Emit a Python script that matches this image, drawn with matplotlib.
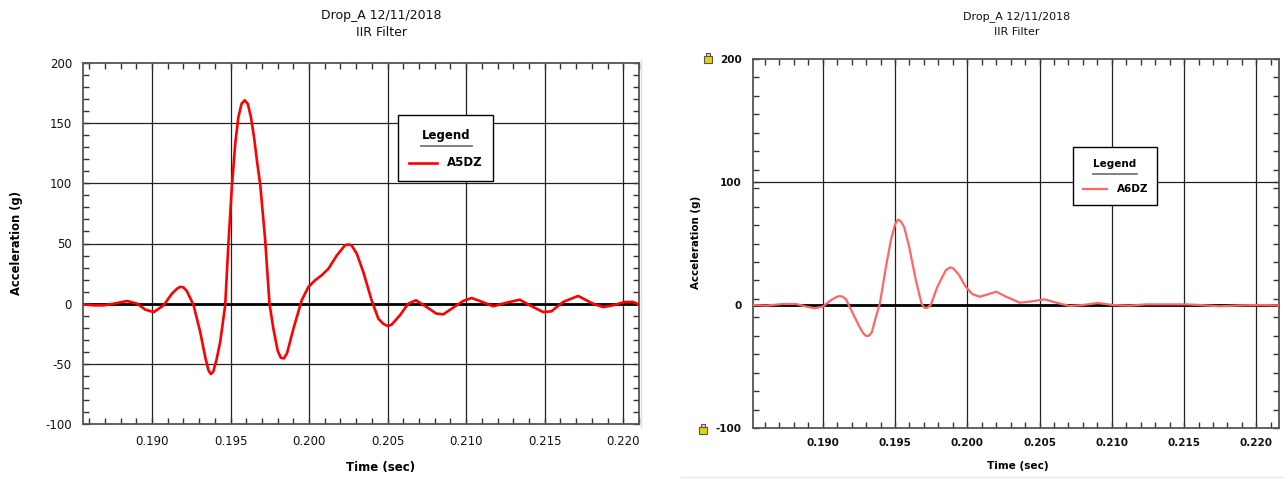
import matplotlib
matplotlib.use('Agg')
import matplotlib.pyplot as plt
from matplotlib.patches import Rectangle
from matplotlib.lines import Line2D
from matplotlib.ticker import MultipleLocator, FixedLocator

plt.rcParams['axes.unicode_minus'] = False

# Data
t_a5 = [0.18555, 0.18629, 0.18693, 0.18756, 0.18841, 0.18905, 0.18958, 0.19011,
        0.19074, 0.19127, 0.19160, 0.19180, 0.19200, 0.19222, 0.19265, 0.19307,
        0.19340, 0.19360, 0.19375, 0.19390, 0.19410, 0.19434, 0.19466, 0.19487,
        0.19508, 0.19530, 0.19550, 0.19570, 0.19590, 0.19610, 0.19630, 0.19650,
        0.19670, 0.19689, 0.19720, 0.19748, 0.19773, 0.19800, 0.19820, 0.19840,
        0.19860, 0.19900, 0.19953, 0.19996, 0.20038, 0.20080, 0.20123, 0.20176,
        0.20229, 0.20250, 0.20270, 0.20303, 0.20345, 0.20398, 0.20441, 0.20472,
        0.20500, 0.20525, 0.20578, 0.20631, 0.20680, 0.20748, 0.20811, 0.20854,
        0.20917, 0.20981, 0.21034, 0.21087, 0.21172, 0.21256, 0.21341, 0.21405,
        0.21490, 0.21542, 0.21617, 0.21712, 0.21807, 0.21871, 0.21934, 0.22008,
        0.22061, 0.22100]
acc_a5 = [-0.5, -1.4, -1.4, 0.0, 2.2, 0.0, -5.0, -7.0,
          -1.4, 8.3, 12.5, 14.0, 13.5, 10.5, -1.4, -23.6,
          -45.0, -55.5, -58.5, -56.5, -47.0, -32.0, -1.4, 51.0,
          96.0, 133.0, 155.0, 166.0, 169.0, 166.0, 155.0, 138.0,
          117.0, 99.0, 54.0, 0.0, -21.0, -39.0, -45.0, -45.5,
          -41.0, -21.0, 2.8, 14.0, 19.4, 23.6, 29.0, 40.0,
          48.6, 49.2, 48.6, 41.7, 26.4, 2.8, -12.5, -16.7,
          -18.6, -17.5, -9.7, 0.0, 2.8, -2.8, -8.3, -8.9,
          -3.3, 2.2, 4.7, 2.2, -2.2, 0.8, 3.3, -1.4,
          -7.0, -6.4, 1.4, 6.4, 0.0, -2.8, -1.4, 1.4,
          1.4, -0.6]

t_a6 = [0.18517, 0.18609, 0.18724, 0.18816, 0.18885, 0.18943, 0.19000, 0.19057,
        0.19100, 0.19120, 0.19140, 0.19161, 0.19207, 0.19253, 0.19280, 0.19300,
        0.19320, 0.19340, 0.19368, 0.19395, 0.19437, 0.19471, 0.19500, 0.19520,
        0.19540, 0.19563, 0.19598, 0.19644, 0.19683, 0.19700, 0.19720, 0.19747,
        0.19793, 0.19851, 0.19880, 0.19900, 0.19920, 0.19943, 0.19989, 0.20034,
        0.20085, 0.20149, 0.20200, 0.20269, 0.20362, 0.20431, 0.20535, 0.20615,
        0.20708, 0.20800, 0.20904, 0.21008, 0.21123, 0.21238, 0.21377, 0.21515,
        0.21608, 0.21746, 0.21885, 0.22023, 0.22157]
acc_a6 = [0.0, -0.5, 0.8, 0.8, -1.3, -2.7, -1.3, 4.0,
          6.8, 7.3, 6.5, 4.6, -6.7, -17.5, -23.0, -25.2,
          -25.0, -22.0, -9.4, 1.3, 31.0, 52.6, 65.5, 69.5,
          68.0, 63.3, 47.2, 20.2, 1.3, -2.0, -2.5, 0.0,
          14.8, 28.3, 30.5, 30.0, 27.5, 24.3, 14.8, 8.9,
          6.7, 8.9, 10.8, 6.7, 1.9, 2.7, 4.6, 1.9,
          -0.8, 0.0, 1.6, 0.0, -0.5, 0.5, 0.5, 0.5,
          0.0, -1.1, -0.3, 0.0, -0.3]

title1 = 'Drop_A 12/11/2018'
title2 = 'IIR Filter'
xlabel = 'Time (sec)'
ylabel = 'Acceleration (g)'
x_ticks = [0.190, 0.195, 0.200, 0.205, 0.210, 0.215, 0.220]
y_ticks_left = [-100, -50, 0, 50, 100, 150, 200]
y_ticks_right = [-100, 0, 100, 200]

W, H = 1284, 479
fig = plt.figure(figsize=(W / 100, H / 100), dpi=100)


def fx(x):
    return x / W


def fy(y):
    return 1 - y / H


def setup_axes(ax, yticks, yminor, lab_size, lab_weight, xpad, ypad):
    ax.set_ylim(-100, 200)
    ax.set_xticks(x_ticks)
    ax.set_xticklabels(['%.3f' % v for v in x_ticks])
    ax.xaxis.set_minor_locator(MultipleLocator(0.001))
    ax.set_yticks(yticks)
    ax.yaxis.set_minor_locator(yminor)
    ax.tick_params(which='both', direction='in', top=True, right=True,
                   color='#333333', width=1.0, length=4)
    ax.tick_params(axis='x', pad=xpad)
    ax.tick_params(axis='y', pad=ypad)
    for lbl in ax.get_xticklabels() + ax.get_yticklabels():
        lbl.set_fontsize(lab_size)
        lbl.set_fontweight(lab_weight)
        lbl.set_color('#111111')
    for s in ax.spines.values():
        s.set_color('#555555')
        s.set_linewidth(1.3)
    for v in x_ticks:
        ax.axvline(v, color='#222222', lw=0.9, zorder=1)
    for v in yticks:
        if v not in (-100, 0, 200):
            ax.axhline(v, color='#222222', lw=0.9, zorder=1)
    ax.axhline(0, color='black', lw=2.0, zorder=2)


# Left panel
ax1 = fig.add_axes([fx(83), fy(424), 556 / W, 361 / H])
ax1.set_xlim(0.18561, 0.22100)
setup_axes(ax1, y_ticks_left, MultipleLocator(10), 8.5, 'normal', 8, 8)
ax1.plot(t_a5, acc_a5, color='#ff0000', lw=1.9, zorder=3)

# Right panel
ax2 = fig.add_axes([fx(753), fy(428), 526 / W, 369 / H])
ax2.set_xlim(0.18517, 0.22157)
setup_axes(ax2, y_ticks_right, FixedLocator(list(range(-85, 200, 15))), 7.5, 'bold', 7, 8)
ax2.plot(t_a6, acc_a6, color='#ff6666', lw=1.6, zorder=3)

# Titles and axis labels
for cx, y1, y2, fs in [(381, 15, 32, 9), (1017, 17, 32, 8)]:
    fig.text(fx(cx), fy(y1), title1, ha='center', va='center', fontsize=fs, color='#111111')
    fig.text(fx(cx), fy(y2), title2, ha='center', va='center', fontsize=fs, color='#111111')

fig.text(fx(381), fy(467), xlabel, ha='center', va='center', fontsize=8.5, fontweight='bold')
fig.text(fx(1018), fy(466), xlabel, ha='center', va='center', fontsize=7.6, fontweight='bold')
fig.text(fx(17), fy(243), ylabel, ha='center', va='center', rotation=90, fontsize=8.3, fontweight='bold')
fig.text(fx(696), fy(242), ylabel, ha='center', va='center', rotation=90, fontsize=7.4, fontweight='bold')


# Legends drawn as boxes
def legend_box(x0, x1, y0, y1, cx, ty, ux0, ux1, uy, lx0, lx1, ly, label, color, fs, lw):
    fig.add_artist(Rectangle((fx(x0), fy(y1)), (x1 - x0) / W, (y1 - y0) / H,
                             transform=fig.transFigure, fc='white', ec='black', lw=1.0, zorder=5))
    fig.text(fx(cx), fy(ty), 'Legend', ha='center', va='center', fontsize=fs,
             fontweight='bold', zorder=6)
    fig.add_artist(Line2D([fx(ux0), fx(ux1)], [fy(uy), fy(uy)], transform=fig.transFigure,
                          color='#777777', lw=1.3, zorder=6))
    fig.add_artist(Line2D([fx(lx0), fx(lx1)], [fy(ly), fy(ly)], transform=fig.transFigure,
                          color=color, lw=lw, zorder=6))
    fig.text(fx(lx1 + 10), fy(ly), label, ha='left', va='center', fontsize=fs,
             fontweight='bold', zorder=6)


legend_box(398, 493, 115, 181, 446, 135, 421, 472, 146, 409, 437, 163, 'A5DZ', '#ff0000', 8.5, 1.9)
legend_box(1073, 1157, 147, 205, 1115, 164, 1093, 1137, 174, 1083, 1107, 189, 'A6DZ', '#ff6666', 7.5, 1.6)

# small lock icons beside the right y-axis limits
for ix, iy in [(704, 53), (699, 424)]:
    fig.add_artist(Rectangle((fx(ix), fy(iy + 10)), 8 / W, 7 / H, transform=fig.transFigure,
                             fc='#e6d400', ec='#555555', lw=0.8, zorder=5))
    fig.add_artist(Rectangle((fx(ix + 2), fy(iy + 3)), 4 / W, 3 / H, transform=fig.transFigure,
                             fc='#dddddd', ec='#555555', lw=0.8, zorder=5))

# faint screenshot frame lines
fig.add_artist(Line2D([fx(641), fx(641)], [fy(60), fy(427)], transform=fig.transFigure,
                      color='#dddddd', lw=1.0))
fig.add_artist(Line2D([fx(681), fx(1284)], [fy(477), fy(477)], transform=fig.transFigure,
                      color='#e6e6e6', lw=1.0))

fig.savefig('out.png', dpi=100)
